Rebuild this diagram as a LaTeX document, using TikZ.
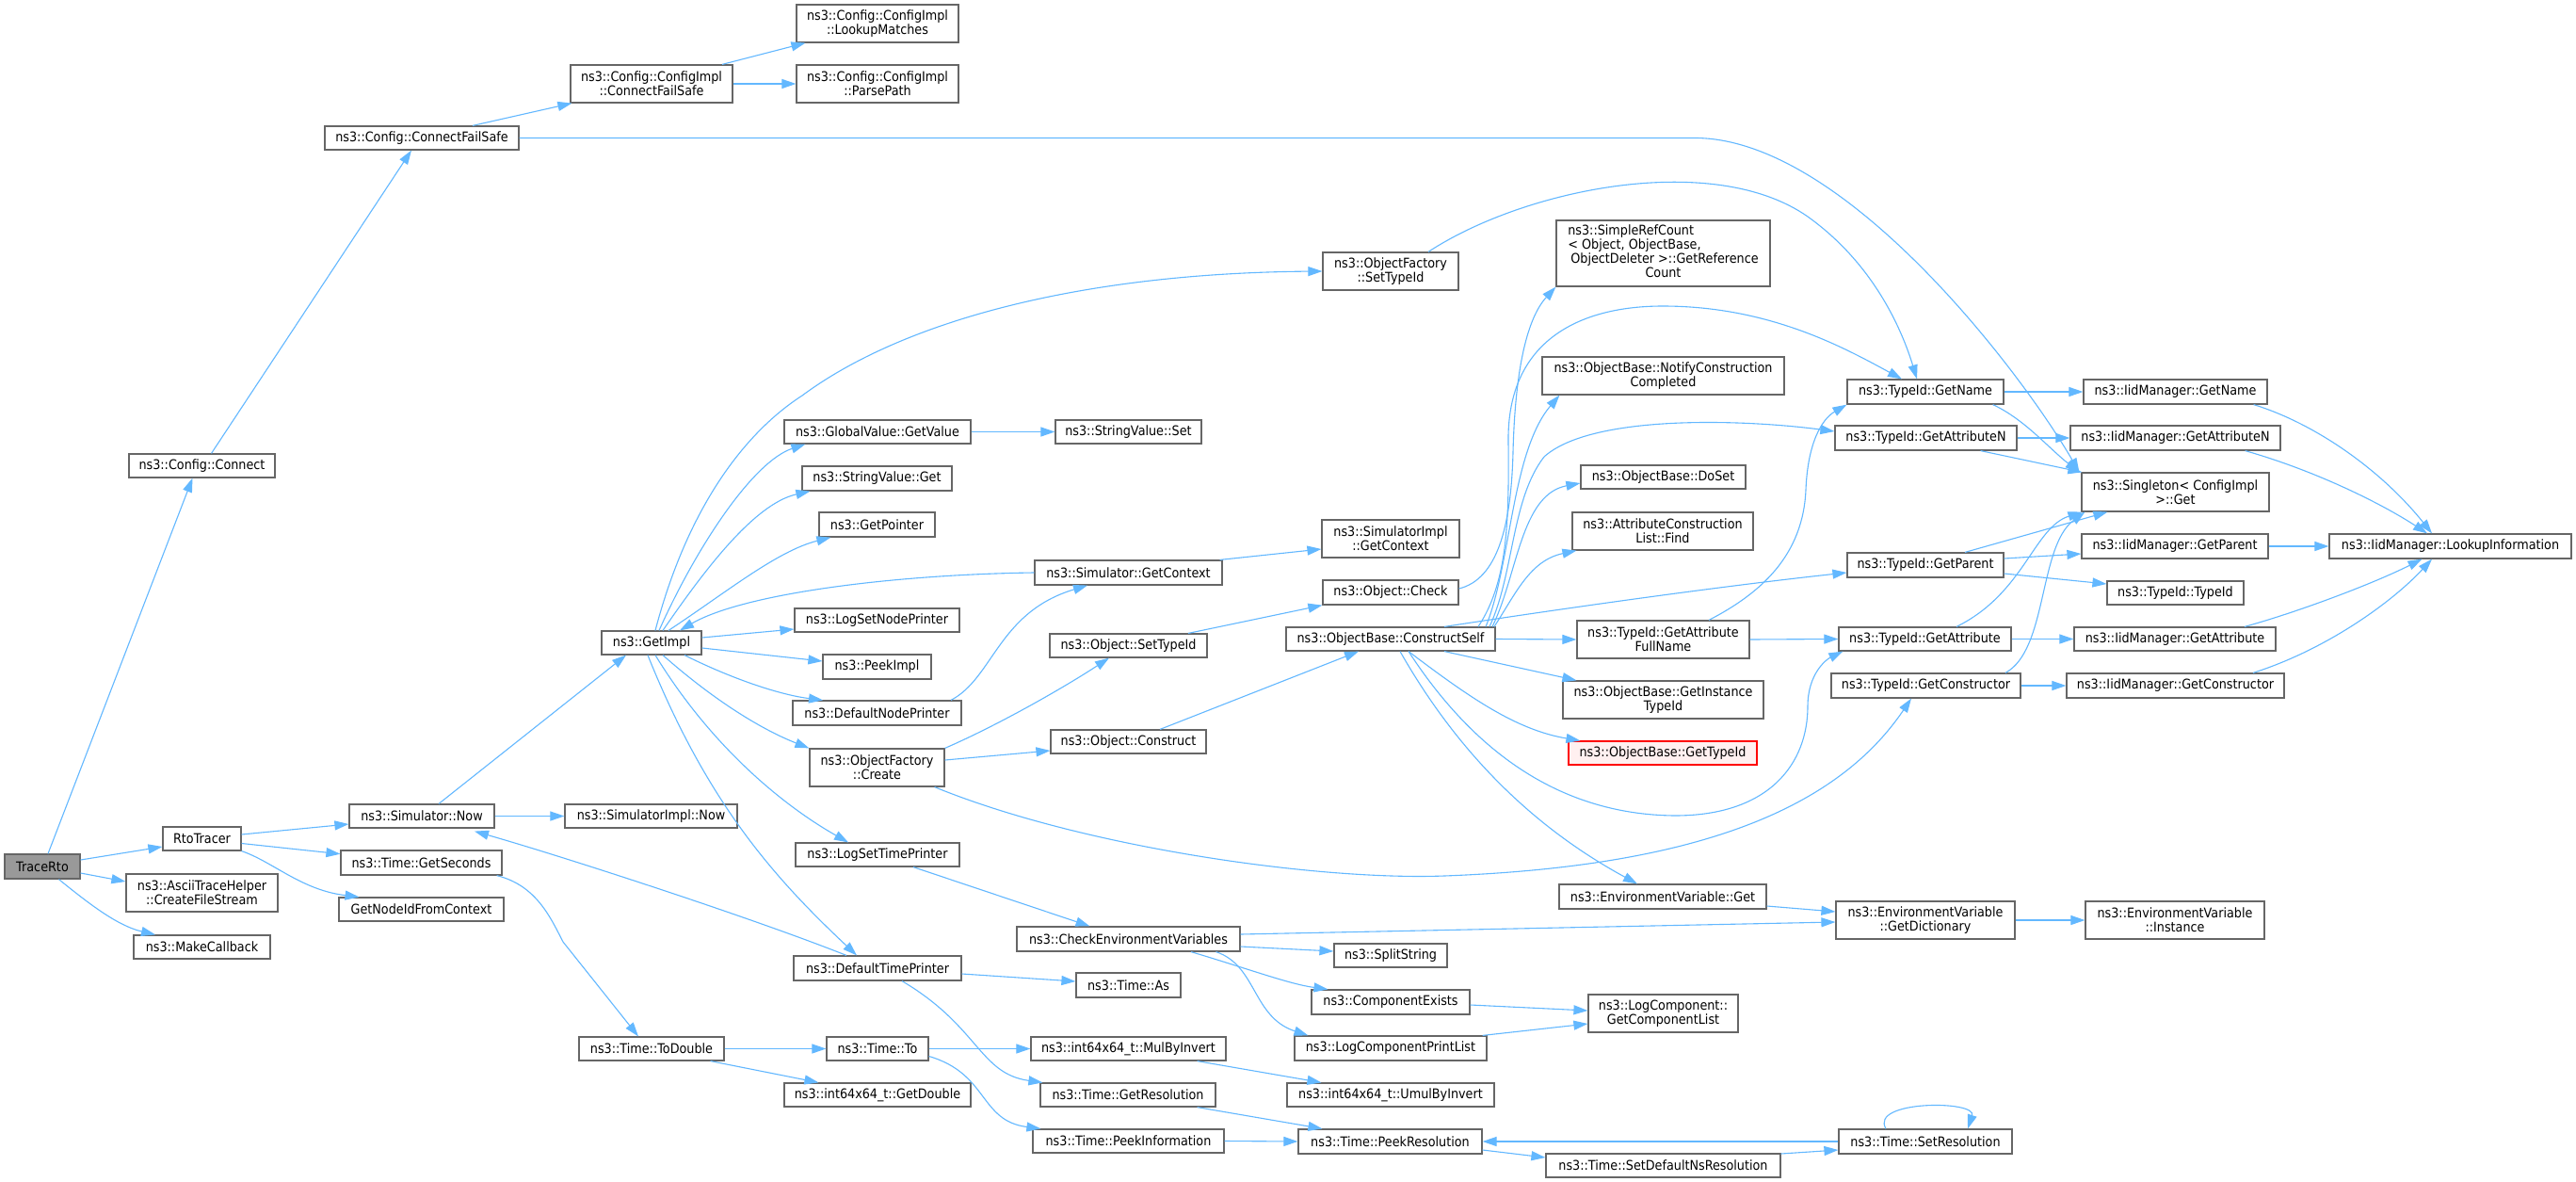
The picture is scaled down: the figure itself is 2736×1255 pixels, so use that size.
\documentclass[tikz,border=0pt]{standalone}
\usepackage{fontspec}
\setmainfont{DejaVu Sans}[FakeStretch=0.9]
\usetikzlibrary{arrows.meta}
\definecolor{edgecol}{HTML}{63B8FF}
\definecolor{bordercol}{HTML}{666666}
\definecolor{rootfill}{HTML}{999999}
\definecolor{redfill}{HTML}{FFF0F0}
\newcommand{\nb}[7][]{\node[box,#1,minimum width={(#5-#3)*1pt},minimum height={(#6-#4)*1pt}] (#2) at ({(#3+#5)/2},{(#4+#6)/2}) {#7};}
\begin{document}
\begin{tikzpicture}[x=1pt,y=-1pt,
  box/.style={draw=bordercol,fill=white,line width=1.2pt,inner sep=0pt,align=center,font=\fontsize{14.2}{15}\selectfont},
  rootbox/.style={fill=rootfill},
  redbox/.style={draw=red,fill=redfill},
  edge/.style={draw=edgecol,line width=1.1pt,-{Triangle[length=15pt,width=10pt]}}]
\fill[white] (0,0) rectangle (2736,1255);
\useasboundingbox (0,0) rectangle (2736,1255);
% nodes
\nb[rootbox]{root}{5}{907}{85}{933}{TraceRto}
\nb{rto}{173}{878}{256}{903}{RtoTracer}
\nb{cfs}{134}{928}{295}{968}{ns3::AsciiTraceHelper\\::CreateFileStream}
\nb{mcb}{142}{993}{287}{1018}{ns3::MakeCallback}
\nb{con}{137}{482}{292}{507}{ns3::Config::Connect}
\nb{cfsafe}{345}{134}{551}{159}{ns3::Config::ConnectFailSafe}
\nb{cicfs}{606}{69}{778}{109}{ns3::Config::ConfigImpl\\::ConnectFailSafe}
\nb{lkm}{846}{5}{1018}{45}{ns3::Config::ConfigImpl\\::LookupMatches}
\nb{pp}{846}{69}{1018}{109}{ns3::Config::ConfigImpl\\::ParsePath}
\nb{snow}{371}{854}{525}{879}{ns3::Simulator::Now}
\nb{gsec}{362}{903}{533}{929}{ns3::Time::GetSeconds}
\nb{gnid}{360}{953}{535}{978}{GetNodeIdFromContext}
\nb{sinow}{600}{854}{783}{879}{ns3::SimulatorImpl::Now}
\nb{gimpl}{639}{670}{745}{695}{ns3::GetImpl}
\nb{todbl}{615}{1101}{769}{1126}{ns3::Time::ToDouble}
\nb{gvgv}{833}{446}{1031}{471}{ns3::GlobalValue::GetValue}
\nb{svset}{1121}{446}{1276}{471}{ns3::StringValue::Set}
\nb{svget}{852}{495}{1011}{521}{ns3::StringValue::Get}
\nb{gptr}{870}{544}{993}{570}{ns3::GetPointer}
\nb{sgctx}{1099}{595}{1298}{621}{ns3::Simulator::GetContext}
\nb{lsnp}{844}{646}{1019}{671}{ns3::LogSetNodePrinter}
\nb{pimpl}{874}{695}{989}{721}{ns3::PeekImpl}
\nb{dnp}{842}{744}{1021}{770}{ns3::DefaultNodePrinter}
\nb{ofc}{860}{795}{1003}{835}{ns3::ObjectFactory\\::Create}
\nb{lstp}{845}{895}{1019}{920}{ns3::LogSetTimePrinter}
\nb{dtp}{843}{1015}{1021}{1041}{ns3::DefaultTimePrinter}
\nb{cev}{1080}{984}{1317}{1010}{ns3::CheckEnvironmentVariables}
\nb{tas}{1143}{1033}{1254}{1059}{ns3::Time::As}
\nb{tto}{878}{1101}{986}{1126}{ns3::Time::To}
\nb{gdbl}{833}{1150}{1031}{1175}{ns3::int64x64\_t::GetDouble}
\nb{mbi}{1095}{1101}{1302}{1126}{ns3::int64x64\_t::MulByInvert}
\nb{gres}{1105}{1150}{1291}{1175}{ns3::Time::GetResolution}
\nb{pinf}{1097}{1199}{1300}{1224}{ns3::Time::PeekInformation}
\nb{ostid}{1115}{673}{1282}{698}{ns3::Object::SetTypeId}
\nb{ocon}{1116}{775}{1281}{800}{ns3::Object::Construct}
\nb{ofstid}{1405}{268}{1549}{308}{ns3::ObjectFactory\\::SetTypeId}
\nb{sigctx}{1404}{552}{1550}{592}{ns3::SimulatorImpl\\::GetContext}
\nb{ochk}{1405}{616}{1549}{642}{ns3::Object::Check}
\nb{cself}{1366}{666}{1588}{691}{ns3::ObjectBase::ConstructSelf}
\nb{srefc}{1653}{234}{1880}{304}{\begin{tabular}{@{}l@{}}ns3::SimpleRefCount\\\textless{} Object, ObjectBase,\\\hspace{3pt}ObjectDeleter \textgreater::GetReference\\\multicolumn{1}{@{}c@{}}{Count}\end{tabular}}
\nb{ncc}{1638}{379}{1895}{419}{ns3::ObjectBase::NotifyConstruction\\Completed}
\nb{doset}{1679}{494}{1854}{519}{ns3::ObjectBase::DoSet}
\nb{acl}{1670}{544}{1862}{584}{ns3::AttributeConstruction\\List::Find}
\nb{gafn}{1675}{659}{1858}{699}{ns3::TypeId::GetAttribute\\FullName}
\nb{gitid}{1660}{723}{1873}{763}{ns3::ObjectBase::GetInstance\\TypeId}
\nb[redbox]{gtid}{1666}{787}{1866}{812}{ns3::ObjectBase::GetTypeId}
\nb{evget}{1656}{939}{1876}{965}{ns3::EnvironmentVariable::Get}
\nb{split}{1417}{1002}{1537}{1027}{ns3::SplitString}
\nb{cex}{1393}{1051}{1561}{1077}{ns3::ComponentExists}
\nb{lcpl}{1375}{1100}{1579}{1126}{ns3::LogComponentPrintList}
\nb{umul}{1367}{1150}{1587}{1175}{ns3::int64x64\_t::UmulByInvert}
\nb{pres}{1379}{1199}{1574}{1225}{ns3::Time::PeekResolution}
\nb{sdns}{1642}{1225}{1891}{1250}{ns3::Time::SetDefaultNsResolution}
\nb{gcl}{1687}{1056}{1846}{1096}{ns3::LogComponent::\\GetComponentList}
\nb{tgn}{1962}{403}{2128}{429}{ns3::TypeId::GetName}
\nb{tgan}{1949}{452}{2142}{478}{ns3::TypeId::GetAttributeN}
\nb{tgp}{1962}{587}{2128}{613}{ns3::TypeId::GetParent}
\nb{tga}{1953}{666}{2136}{691}{ns3::TypeId::GetAttribute}
\nb{tgc}{1945}{715}{2146}{741}{ns3::TypeId::GetConstructor}
\nb{gdict}{1950}{957}{2140}{997}{ns3::EnvironmentVariable\\::GetDictionary}
\nb{sres}{1953}{1199}{2137}{1225}{ns3::Time::SetResolution}
\nb{ign}{2213}{403}{2408}{429}{ns3::IidManager::GetName}
\nb{igan}{2199}{452}{2422}{478}{ns3::IidManager::GetAttributeN}
\nb{sing}{2211}{502}{2410}{543}{ns3::Singleton\textless{} ConfigImpl\\\textgreater::Get}
\nb{igp}{2211}{567}{2409}{593}{ns3::IidManager::GetParent}
\nb{ttid}{2238}{617}{2383}{642}{ns3::TypeId::TypeId}
\nb{iga}{2203}{666}{2417}{691}{ns3::IidManager::GetAttribute}
\nb{igc}{2195}{715}{2426}{741}{ns3::IidManager::GetConstructor}
\nb{lkup}{2474}{567}{2731}{593}{ns3::IidManager::LookupInformation}
\nb{inst}{2215}{957}{2405}{997}{ns3::EnvironmentVariable\\::Instance}
% edges
\draw[edge] ([shift={(6,0)}]root.north) -- ([shift={(-10,0)}]con.south);
\draw[edge] ([shift={(10,0)}]con.north) -- ([shift={(-11,0)}]cfsafe.south);
\draw[edge] ([shift={(54,0)}]cfsafe.north) -- ([shift={(2,0)}]cicfs.south west);
\draw[edge] (cfsafe.east) -- (1800,146.5) .. controls (1960,146.5) and (2150,400) .. ([shift={(-2,0)}]sing.north west);
\draw[edge] ([shift={(75,0)}]cicfs.north) -- ([shift={(10,0)}]lkm.south west);
\draw[edge] (cicfs.east) -- (pp.west);
\draw[edge] ([shift={(0,-7)}]root.east) -- ([shift={(0,8.5)}]rto.west);
\draw[edge] ([shift={(0,7)}]root.east) -- ([shift={(0,-12)}]cfs.west);
\draw[edge] ([shift={(17.5,0)}]root.south) .. controls (95,960) and (125,983) .. ([shift={(-49.5,0)}]mcb.north);
\draw[edge] ([shift={(0,-4.5)}]rto.east) -- ([shift={(0,8.5)}]snow.west);
\draw[edge] ([shift={(0,5)}]rto.east) -- ([shift={(0,-9.3)}]gsec.west);
\draw[edge] (rto.south east) .. controls (290,915) and (320,945) .. ([shift={(-66,0)}]gnid.north);
\draw[edge] ([shift={(18,0)}]snow.north) -- ([shift={(-27,0)}]gimpl.south);
\draw[edge] (snow.east) -- (sinow.west);
\draw[edge] ([shift={(-33,0)}]dtp.north) .. controls (800,975) and (600,910) .. ([shift={(56,3)}]snow.south);
\draw[edge] ([shift={(-6,0)}]gsec.south east) .. controls (570,940) and (585,975) .. (598,1000) -- ([shift={(-14,0)}]todbl.north);
\draw[edge] ([shift={(4,0)}]gimpl.north) .. controls (730,540) and (790,460) .. (852,420) .. controls (960,340) and (1150,290) .. (ofstid.west);
\draw[edge] ([shift={(8,0)}]gimpl.north) .. controls (740,580) and (800,490) .. ([shift={(23,0)}]gvgv.south west);
\draw[edge] ([shift={(12,0)}]gimpl.north) .. controls (745,610) and (800,535) .. ([shift={(9,0)}]svget.south west);
\draw[edge] ([shift={(18,0)}]gimpl.north) .. controls (770,630) and (825,585) .. ([shift={(13,0)}]gptr.south west);
\draw[edge] (sgctx.west) .. controls (950,610) and (790,630) .. ([shift={(30,0)}]gimpl.north);
\draw[edge] ([shift={(0,-5.5)}]gimpl.east) -- ([shift={(0,9.5)}]lsnp.west);
\draw[edge] ([shift={(0,5.5)}]gimpl.east) -- ([shift={(0,-6)}]pimpl.west);
\draw[edge] ([shift={(35,0)}]gimpl.south) .. controls (780,722) and (830,738) .. ([shift={(-57.5,0)}]dnp.north);
\draw[edge] ([shift={(12,0)}]gimpl.south) .. controls (760,745) and (810,775) .. (ofc.north west);
\draw[edge] ([shift={(4,0)}]gimpl.south) .. controls (760,800) and (840,860) .. ([shift={(-31,0)}]lstp.north);
\draw[edge] ([shift={(-4,0)}]gimpl.south) .. controls (750,850) and (820,930) .. ([shift={(-22,0)}]dtp.north);
\draw[edge] (gvgv.east) -- (svset.west);
\draw[edge] ([shift={(-3,0)}]sgctx.north east) -- ([shift={(0,11)}]sigctx.west);
\draw[edge] ([shift={(78.5,0)}]dnp.north) .. controls (1055,720) and (1060,650) .. ([shift={(-43.5,0)}]sgctx.south);
\draw[edge] (ofc.north east) .. controls (1060,770) and (1130,730) .. ([shift={(-20.5,0)}]ostid.south);
\draw[edge] ([shift={(0,-8)}]ofc.east) -- ([shift={(0,9.5)}]ocon.west);
\draw[edge] ([shift={(-11,0)}]ofc.south east) .. controls (1150,900) and (1400,935) .. (1534,930) .. controls (1800,920) and (1950,860) .. ([shift={(-15.5,0)}]tgc.south);
\draw[edge] ([shift={(63.5,0)}]ostid.north) -- (ochk.south west);
\draw[edge] ([shift={(33.5,0)}]ocon.north) -- ([shift={(-34,0)}]cself.south);
\draw[edge] ([shift={(0,-4)}]ochk.east) .. controls (1590,615) and (1605,560) .. (1607,480) .. controls (1609,400) and (1620,340) .. (srefc.south west);
\draw[edge] ([shift={(93,0)}]cself.north) .. controls (1600,620) and (1603,560) .. (1602,470) .. controls (1600,360) and (1680,325) .. (1766,325) .. controls (1880,325) and (1960,370) .. ([shift={(-25,0)}]tgn.north);
\draw[edge] ([shift={(40,0)}]ofstid.north) .. controls (1620,200) and (1820,160) .. (1920,230) .. controls (1990,280) and (2020,350) .. ([shift={(-9,0)}]tgn.north);
\draw[edge] ([shift={(101,0)}]cself.north) .. controls (1605,600) and (1605,480) .. ([shift={(19,0)}]ncc.south west);
\draw[edge] ([shift={(105,0)}]cself.north) .. controls (1608,610) and (1605,530) .. (1640,485) .. controls (1690,440) and (1850,445) .. ([shift={(0,-7)}]tgan.west);
\draw[edge] ([shift={(108,0)}]cself.north) .. controls (1612,610) and (1615,525) .. ([shift={(0,6.5)}]doset.west);
\draw[edge] ([shift={(110,0)}]cself.north) .. controls (1610,630) and (1625,595) .. ([shift={(5,0)}]acl.south west);
\draw[edge] ([shift={(57,0)}]cself.north) .. controls (1700,640) and (1850,620) .. ([shift={(0,8)}]tgp.west);
\draw[edge] (cself.east) -- (gafn.west);
\draw[edge] ([shift={(57,0)}]cself.south) -- ([shift={(15,0)}]gitid.north west);
\draw[edge] ([shift={(19,0)}]cself.south) .. controls (1560,740) and (1610,775) .. ([shift={(13,0)}]gtid.north west);
\draw[edge] ([shift={(19,0)}]cself.south) .. controls (1560,790) and (1650,865) .. (1779,866) .. controls (1880,866) and (1920,810) .. (1920,750) .. controls (1920,715) and (1940,700) .. ([shift={(5,0)}]tga.south west);
\draw[edge] ([shift={(10,0)}]cself.south) .. controls (1560,820) and (1650,890) .. ([shift={(-27,0)}]evget.north);
\draw[edge] ([shift={(48.5,0)}]gafn.north) .. controls (1870,630) and (1915,590) .. (1918,520) .. controls (1920,470) and (1935,445) .. (tgn.south west);
\draw[edge] (gafn.east) -- (tga.west);
\draw[edge] (tgn.east) -- (ign.west);
\draw[edge] ([shift={(-12,0)}]tgn.south east) .. controls (2150,445) and (2175,475) .. ([shift={(-2,0)}]sing.north west);
\draw[edge] (tgan.east) -- (igan.west);
\draw[edge] ([shift={(-39,0)}]tgan.south east) -- ([shift={(1,0)}]sing.north west);
\draw[edge] ([shift={(42,0)}]tgp.north) -- ([shift={(28,0)}]sing.south west);
\draw[edge] ([shift={(0,-7)}]tgp.east) -- ([shift={(0,8)}]igp.west);
\draw[edge] ([shift={(0,9)}]tgp.east) -- ([shift={(0,-9.5)}]ttid.west);
\draw[edge] ([shift={(33.5,0)}]tga.north) .. controls (2150,630) and (2160,560) .. ([shift={(1,0)}]sing.south west);
\draw[edge] (tga.east) -- (iga.west);
\draw[edge] ([shift={(84.5,0)}]tgc.north) .. controls (2175,690) and (2165,580) .. ([shift={(4,0)}]sing.south west);
\draw[edge] (tgc.east) -- (igc.west);
\draw[edge] ([shift={(-15,0)}]ign.south east) .. controls (2460,450) and (2530,500) .. ([shift={(-19.5,0)}]lkup.north);
\draw[edge] ([shift={(-38,0)}]igan.south east) .. controls (2460,500) and (2530,535) .. ([shift={(-24.5,0)}]lkup.north);
\draw[edge] (igp.east) -- (lkup.west);
\draw[edge] ([shift={(74,0)}]iga.north) .. controls (2440,650) and (2520,620) .. ([shift={(-30,0)}]lkup.south);
\draw[edge] ([shift={(82.5,0)}]igc.north) .. controls (2470,690) and (2540,640) .. ([shift={(-19.5,0)}]lkup.south);
\draw[edge] ([shift={(0,10)}]evget.east) -- ([shift={(0,-9)}]gdict.west);
\draw[edge] ([shift={(0,-5)}]cev.east) -- ([shift={(0,2)}]gdict.west);
\draw[edge] ([shift={(0,8)}]cev.east) -- ([shift={(0,-4.5)}]split.west);
\draw[edge] ([shift={(66.5,0)}]cev.south) .. controls (1330,1030) and (1370,1045) .. ([shift={(18,0)}]cex.north west);
\draw[edge] ([shift={(93,0)}]cev.south) .. controls (1335,1025) and (1330,1080) .. ([shift={(15,0)}]lcpl.north west);
\draw[edge] ([shift={(38,0)}]lstp.south) -- ([shift={(-41,0)}]cev.north);
\draw[edge] ([shift={(0,6)}]dtp.east) -- ([shift={(0,-4)}]tas.west);
\draw[edge] ([shift={(26,0)}]dtp.south) .. controls (1040,1090) and (1040,1140) .. ([shift={(3,0)}]gres.north west);
\draw[edge] (todbl.east) -- (tto.west);
\draw[edge] ([shift={(-15,0)}]todbl.south east) -- ([shift={(37,0)}]gdbl.north west);
\draw[edge] (tto.east) -- (mbi.west);
\draw[edge] ([shift={(0,8)}]tto.east) .. controls (1050,1140) and (1040,1190) .. ([shift={(9,0)}]pinf.north west);
\draw[edge] ([shift={(-31,0)}]mbi.south east) -- ([shift={(37,0)}]umul.north west);
\draw[edge] ([shift={(-20,0)}]gres.south east) -- ([shift={(26,0)}]pres.north west);
\draw[edge] (pinf.east) -- (pres.west);
\draw[edge] ([shift={(0,9)}]pres.east) -- ([shift={(0,-8.5)}]sdns.west);
\draw[edge] ([shift={(0,-12.5)}]sdns.east) -- ([shift={(0,9)}]sres.west);
\draw[edge] (sres.west) -- (pres.east);
\draw[edge] ([shift={(-42,0)}]sres.north) .. controls (1985,1168) and (2100,1168) .. ([shift={(45,0)}]sres.north);
\draw[edge] (gdict.east) -- (inst.west);
\draw[edge] ([shift={(0,3)}]cex.east) -- ([shift={(0,-3)}]gcl.west);
\draw[edge] ([shift={(-5,0)}]lcpl.north east) -- ([shift={(0,11)}]gcl.west);
\end{tikzpicture}
\end{document}
